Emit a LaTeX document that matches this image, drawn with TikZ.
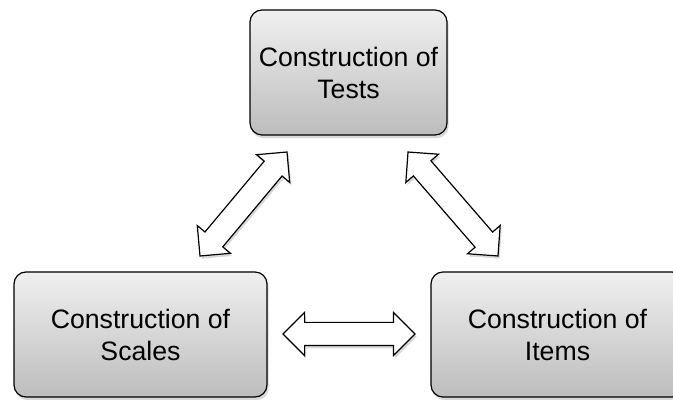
\documentclass[tikz,border=0pt]{standalone}
\usepackage{fontspec}
\setmainfont{Liberation Sans}
\usepackage{tikz}
\usetikzlibrary{shapes.arrows}
\usetikzlibrary{shadows}

\tikzset{
  topic/.style={draw, line width=0.9pt, rounded corners=9pt,
    top color=black!6, bottom color=black!26,
    minimum height=93.75pt, align=center,
    font=\fontsize{20}{24}\selectfont,
    drop shadow={shadow xshift=1.2pt, shadow yshift=-2.4pt, opacity=0.3}},
  link/.style={double arrow, draw, line width=0.9pt, fill=white, sloped,
    inner xsep=0pt, inner ysep=8.25pt, text height=0pt, text depth=0pt,
    double arrow head extend=7.5pt, double arrow tip angle=90,
    drop shadow={shadow xshift=1.2pt, shadow yshift=-2pt, opacity=0.3}}
}

\begin{document}
\begin{tikzpicture}[x=0.75pt,y=0.75pt]
            \useasboundingbox (0,0) rectangle (673,399);

            \node[topic, minimum width=147.75pt] (tests) at (348.5,326.5) {Construction of\\Tests};
            \node[topic, minimum width=189.75pt] (scales) at (140.5,64.5) {Construction of\\Scales};
            \node[topic, minimum width=189.75pt] (items) at (557.5,64.5) {Construction of\\Items};

            \coordinate (s1) at (200,143);
            \coordinate (t1) at (287,247);
            \coordinate (t2) at (408,247);
            \coordinate (i2) at (498,143);
            \coordinate (s3) at (283,65);
            \coordinate (i3) at (415,65);

            \path (s1)--node[link, minimum height=101.7pt](st){}(t1);
            \path (t2)--node[link, minimum height=103.1pt](ti){}(i2);
            \path (s3)--node[link, minimum height=99pt](si){}(i3);

        \end{tikzpicture}
\end{document}
